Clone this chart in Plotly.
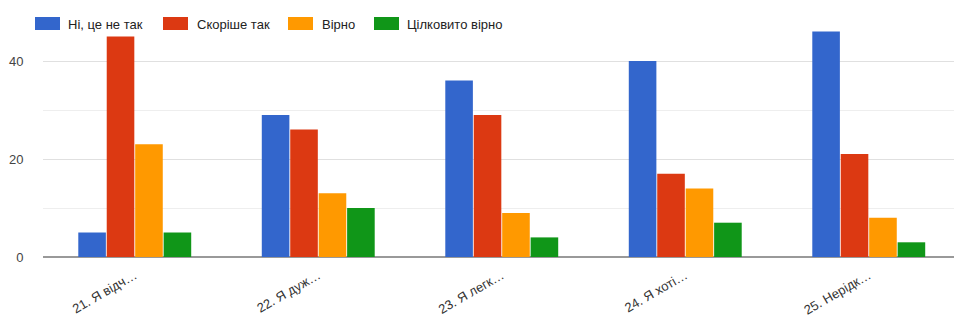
import plotly.graph_objects as go

# Survey answers per statement
categories = ["21. Я відч…", "22. Я дуж…", "23. Я легк…", "24. Я хоті…", "25. Нерідк…"]
series_names = ["Ні, це не так", "Скоріше так", "Вірно", "Цілковито вірно"]
no_not_so = [5, 29, 36, 40, 46]
rather_yes = [45, 26, 29, 17, 21]
true_vals = [23, 13, 9, 14, 8]
fully_true = [5, 10, 4, 7, 3]
y_ticks = [0, 20, 40]

colors = ["#3366cc", "#dc3912", "#ff9900", "#109618"]
values = [no_not_so, rather_yes, true_vals, fully_true]

W, H = 954, 320
ML, MR, MT, MB = 43, 0, 12, 63

fig = go.Figure()
for name, vals, col in zip(series_names, values, colors):
    fig.add_trace(go.Bar(
        x=categories, y=vals, name=name,
        marker=dict(color=col, line=dict(width=0)),
        showlegend=False,
    ))

# Custom legend row: wide swatches with labels
legend_items = [(35, 66), (163, 195), (288, 320), (374, 405)]
for (sx, tx), name, col in zip(legend_items, series_names, colors):
    fig.add_shape(type="rect", xref="paper", yref="paper",
                  x0=(sx - ML) / (W - ML - MR), x1=(sx + 25 - ML) / (W - ML - MR),
                  y0=(H - MB - 30) / (H - MT - MB), y1=(H - MB - 17) / (H - MT - MB),
                  fillcolor=col, line=dict(width=0), layer="above")
    fig.add_annotation(xref="paper", yref="paper",
                       x=(tx - ML) / (W - ML - MR), y=(H - MB - 24) / (H - MT - MB),
                       xanchor="left", yanchor="middle", showarrow=False,
                       text=name, font=dict(family="Liberation Sans, Arial", size=13, color="#222222"))

spacing = 183.5
fig.update_layout(
    width=W, height=H,
    margin=dict(l=ML, r=MR, t=MT, b=MB),
    paper_bgcolor="white", plot_bgcolor="white",
    barmode="group", bargap=0.38, bargroupgap=0.03,
    font=dict(family="Liberation Sans, Arial", size=13, color="#444444"),
    xaxis=dict(
        type="category",
        range=[-0.5, -0.5 + (W - ML - MR) / spacing],
        tickangle=-30,
        tickfont=dict(size=13, color="#333333"),
        ticks="outside", ticklen=5, tickcolor="rgba(0,0,0,0)",
        showgrid=False, showline=False,
        automargin=False,
    ),
    yaxis=dict(
        range=[0, 50],
        tickvals=y_ticks,
        ticks="outside", ticklen=16, tickcolor="rgba(0,0,0,0)",
        tickfont=dict(size=13, color="#444444"),
        showgrid=True, gridcolor="#e0e0e0", gridwidth=1,
        minor=dict(tickvals=[10, 30, 50], showgrid=True, gridcolor="#eeeeee", gridwidth=1, ticks=""),
        zeroline=True, zerolinecolor="#999999", zerolinewidth=2,
        showline=False,
        automargin=False,
    ),
)

fig.write_html("out.html")
